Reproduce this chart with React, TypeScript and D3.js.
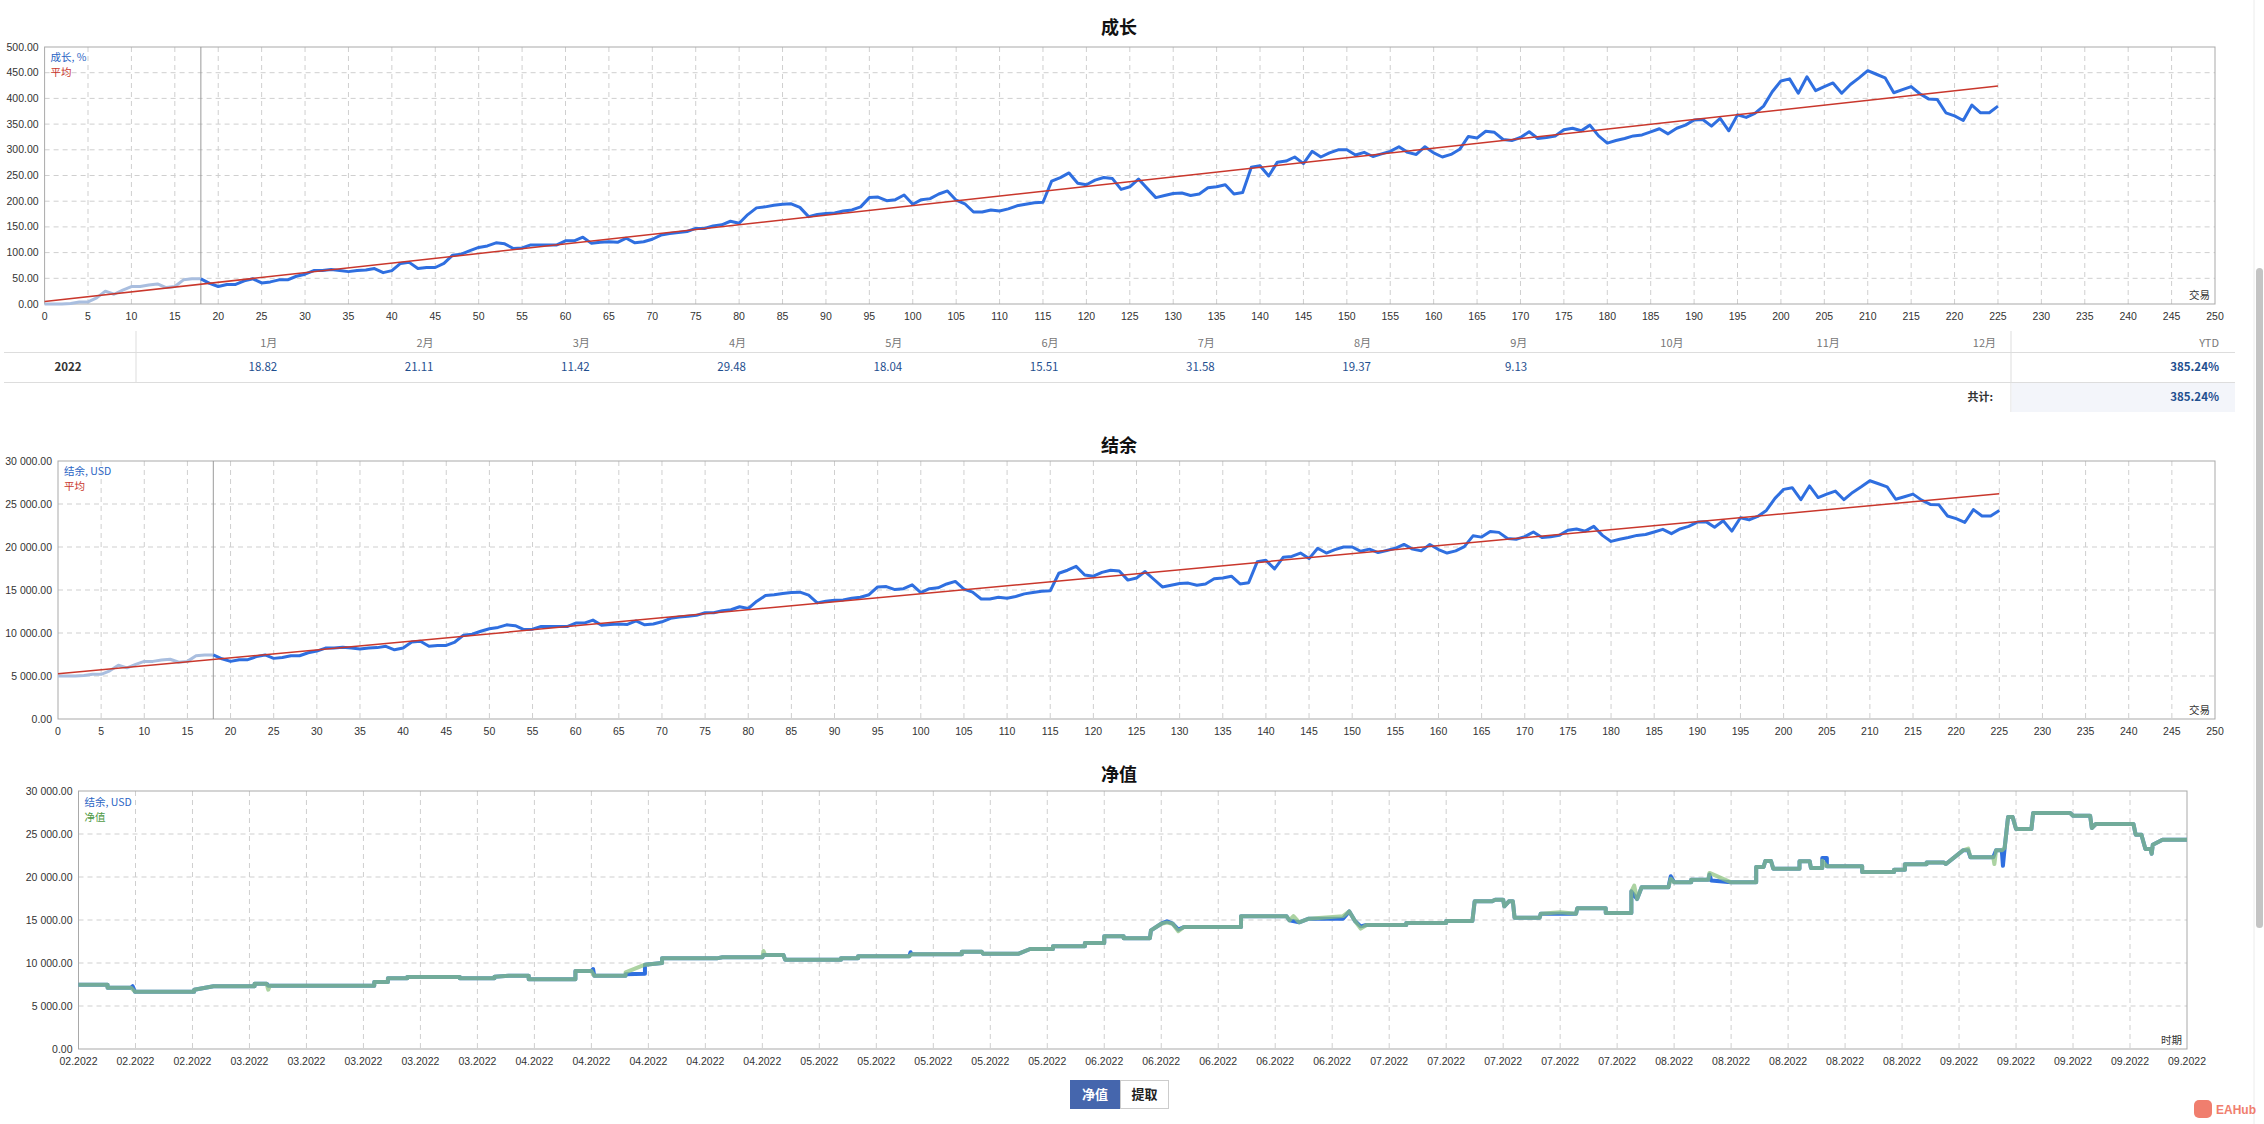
import React, { useEffect } from 'react';
import * as d3 from 'd3';

const W = 2264;
const H = 1124;
const FONT = '"Liberation Sans", "Noto Sans CJK SC", sans-serif';
const CJK = '"Noto Sans CJK SC", "Liberation Sans", sans-serif';

// growth, % per trade (0..225)
const growth = [
  0, 0, 0, 1, 4, 4, 12, 25, 19, 27, 34, 34, 37, 39, 32, 34, 47, 49, 49,
  40, 34, 38, 38, 45, 49, 41, 43, 47, 47, 54, 58, 65, 65, 67, 65, 63, 65, 66, 69, 61,
  65, 79, 81, 69, 71, 71, 79, 95, 97, 104, 110, 113, 119, 117, 108, 109, 115, 115, 115, 115,
  123, 123, 130, 118, 120, 121, 120, 128, 119, 121, 126, 134, 137, 139, 141, 147, 147, 152, 154, 161,
  157, 174, 187, 189, 192, 194, 195, 188, 170, 174, 176, 177, 181, 183, 189, 207, 208, 201, 203, 212,
  194, 203, 205, 214, 220, 202, 195, 179, 179, 183, 181, 185, 191, 194, 197, 198, 239, 246, 255, 235,
  232, 241, 246, 244, 223, 228, 243, 225, 207, 211, 215, 216, 211, 214, 226, 228, 232, 214, 217, 266,
  269, 249, 276, 278, 286, 273, 297, 286, 294, 300, 300, 290, 295, 287, 292, 297, 306, 295, 291, 306,
  294, 286, 291, 301, 326, 323, 336, 334, 320, 318, 324, 335, 322, 324, 327, 339, 342, 337, 348, 327,
  313, 318, 322, 327, 329, 335, 341, 331, 342, 348, 358, 359, 346, 361, 337, 368, 363, 371, 385, 413,
  434, 438, 410, 442, 415, 423, 430, 410, 427, 440, 454, 447, 440, 411, 417, 423, 409, 399, 398, 372,
  366, 357, 387, 372, 372, 385,
];

// balance, USD per trade (0..225)
const balance = [
  5000, 5000, 5000, 5050, 5200, 5200, 5600, 6250, 5950, 6350, 6700, 6700, 6850, 6950, 6600, 6700, 7350, 7450, 7450,
  7000, 6700, 6900, 6900, 7250, 7450, 7050, 7150, 7350, 7350, 7700, 7900, 8250, 8250, 8350, 8250, 8150, 8250, 8300, 8450, 8050,
  8250, 8950, 9050, 8450, 8550, 8550, 8950, 9750, 9850, 10200, 10500, 10650, 10950, 10850, 10400, 10450, 10750, 10750, 10750, 10750,
  11150, 11150, 11500, 10900, 11000, 11050, 11000, 11400, 10950, 11050, 11300, 11700, 11850, 11950, 12050, 12350, 12350, 12600, 12700, 13050,
  12850, 13700, 14350, 14450, 14600, 14700, 14750, 14400, 13500, 13700, 13800, 13850, 14050, 14150, 14450, 15350, 15400, 15050, 15150, 15600,
  14700, 15150, 15250, 15700, 16000, 15100, 14750, 13950, 13950, 14150, 14050, 14250, 14550, 14700, 14850, 14900, 16950, 17300, 17750, 16750,
  16600, 17050, 17300, 17200, 16150, 16400, 17150, 16250, 15350, 15550, 15750, 15800, 15550, 15700, 16300, 16400, 16600, 15700, 15850, 18300,
  18450, 17450, 18800, 18900, 19300, 18650, 19850, 19300, 19700, 20000, 20000, 19500, 19750, 19350, 19600, 19850, 20300, 19750, 19550, 20300,
  19700, 19300, 19550, 20050, 21300, 21150, 21800, 21700, 21000, 20900, 21200, 21750, 21100, 21200, 21350, 21950, 22100, 21850, 22400, 21350,
  20650, 20900, 21100, 21350, 21450, 21750, 22050, 21550, 22100, 22400, 22900, 22950, 22300, 23050, 21850, 23400, 23150, 23550, 24250, 25650,
  26700, 26900, 25500, 27100, 25750, 26150, 26500, 25500, 26350, 27000, 27700, 27350, 27000, 25550, 25850, 26150, 25450, 24950, 24900, 23600,
  23300, 22850, 24350, 23600, 23600, 24250,
];

// average line ends (trade 0 and last trade)
const growthAvg = [5, 424];
const balanceAvg = [5250, 26200];
const splitTrade = 18;

const months = ['1月', '2月', '3月', '4月', '5月', '6月', '7月', '8月', '9月', '10月', '11月', '12月'];
const monthValues = ['18.82', '21.11', '11.42', '29.48', '18.04', '15.51', '31.58', '19.37', '9.13', '', '', ''];
const yearLabel = '2022';
const ytdValue = '385.24%';
const totalValue = '385.24%';

const dateLabels = [
  '02.2022', '02.2022', '02.2022',
  '03.2022', '03.2022', '03.2022', '03.2022', '03.2022',
  '04.2022', '04.2022', '04.2022', '04.2022', '04.2022',
  '05.2022', '05.2022', '05.2022', '05.2022', '05.2022',
  '06.2022', '06.2022', '06.2022', '06.2022', '06.2022',
  '07.2022', '07.2022', '07.2022', '07.2022', '07.2022',
  '08.2022', '08.2022', '08.2022', '08.2022', '08.2022',
  '09.2022', '09.2022', '09.2022', '09.2022', '09.2022',
];

// [position on date axis, USD]
const balanceSteps: [number, number][] = [
  [0, 7480], [0.51, 7480], [0.51, 7130], [0.92, 7130], [0.95, 7300], [0.99, 6670], [2.03, 6670], [2.03, 6900],
  [2.37, 7290], [3.09, 7290], [3.09, 7600], [3.3, 7600], [3.33, 7360], [5.19, 7360], [5.19, 7790], [5.43, 7790],
  [5.43, 8220], [5.77, 8220], [5.77, 8370], [6.69, 8370], [6.69, 8220], [7.3, 8220], [7.3, 8410], [7.55, 8530],
  [7.9, 8530], [7.9, 8100], [8.72, 8100], [8.72, 9070], [9.0, 9070], [9.03, 9300], [9.05, 8530], [9.6, 8530],
  [9.6, 8700], [9.94, 8750], [9.94, 9800], [10.24, 10000], [10.24, 10540], [11.2, 10540], [11.3, 10660], [12.0, 10660],
  [12.02, 10930], [12.37, 10930], [12.4, 10390], [13.38, 10390], [13.38, 10540], [13.68, 10540], [13.68, 10780], [14.58, 10780],
  [14.6, 11250], [14.62, 11010], [15.5, 11010], [15.5, 11320], [15.85, 11320], [15.87, 11090], [16.5, 11090], [16.7, 11630],
  [17.1, 11630], [17.1, 11940], [17.66, 11940], [17.66, 12330], [18.0, 12330], [18.0, 13100], [18.34, 13100], [18.34, 12870],
  [18.8, 12870], [18.82, 13800], [19.0, 14570], [19.1, 14850], [19.2, 14570], [19.3, 13880], [19.4, 14190], [20.4, 14190],
  [20.4, 15430], [21.2, 15430], [21.25, 14960], [21.42, 14730], [21.59, 15150], [22.19, 15150], [22.3, 16000], [22.4, 14880],
  [22.5, 14260], [22.6, 14420], [23.3, 14420], [23.3, 14650], [24.0, 14650], [24.0, 14880], [24.46, 14880], [24.5, 17170],
  [24.8, 17170], [24.86, 17360], [25.0, 17360], [25.02, 16590], [25.1, 17170], [25.17, 17170], [25.2, 15270], [25.64, 15270],
  [25.66, 15740], [26.28, 15740], [26.3, 16360], [26.8, 16360], [26.8, 15810], [27.25, 15810], [27.25, 18330], [27.35, 17440],
  [27.43, 18800], [27.9, 18800], [27.94, 20080], [28.0, 19380], [28.3, 19380], [28.3, 19690], [28.6, 19690], [28.62, 20300],
  [28.65, 19600], [29.0, 19380], [29.44, 19380], [29.44, 21160], [29.57, 21160], [29.6, 21860], [29.7, 21860], [29.74, 20970],
  [30.2, 20970], [30.2, 21820], [30.38, 21820], [30.4, 21050], [30.6, 21050], [30.6, 22210], [30.68, 22210], [30.68, 21240],
  [31.3, 21240], [31.3, 20580], [31.86, 20580], [31.86, 20850], [32.05, 20850], [32.05, 21470], [32.43, 21470], [32.43, 21700],
  [32.73, 21700], [32.77, 21510], [33.07, 23100], [33.16, 23100], [33.2, 22290], [33.6, 22290], [33.65, 23100], [33.75, 23100],
  [33.77, 21300], [33.8, 23370], [33.86, 26980], [33.94, 26980], [34.0, 25580], [34.27, 25580], [34.3, 27440], [34.95, 27440],
  [35.0, 27130], [35.3, 27130], [35.33, 25700], [35.4, 26160], [36.06, 26160], [36.1, 24920], [36.2, 24920], [36.27, 23260],
  [36.36, 23260], [36.38, 22710], [36.4, 23760], [36.57, 24340], [37, 24340],
];

const equitySteps: [number, number][] = [
  [0, 7480], [0.51, 7480], [0.51, 7130], [0.92, 7130], [0.99, 6670], [2.03, 6670], [2.03, 6900],
  [2.37, 7290], [3.09, 7290], [3.09, 7600], [3.3, 7600], [3.33, 6900], [3.36, 7360], [5.19, 7360], [5.19, 7790], [5.43, 7790],
  [5.43, 8220], [5.77, 8220], [5.77, 8370], [6.69, 8370], [6.69, 8220], [7.3, 8220], [7.3, 8410], [7.55, 8530],
  [7.9, 8530], [7.9, 8100], [8.72, 8100], [8.72, 9070], [9.0, 9070], [9.05, 8530], [9.6, 8530],
  [9.6, 8900], [9.94, 9800], [10.24, 10000], [10.24, 10540], [11.2, 10540], [11.3, 10660], [12.0, 10660],
  [12.02, 11400], [12.05, 10930], [12.37, 10930], [12.4, 10390], [13.38, 10390], [13.38, 10540], [13.68, 10540], [13.68, 10780], [14.58, 10780],
  [14.62, 11010], [15.5, 11010], [15.5, 11320], [15.85, 11320], [15.87, 11090], [16.5, 11090], [16.7, 11630],
  [17.1, 11630], [17.1, 11940], [17.66, 11940], [17.66, 12330], [18.0, 12330], [18.0, 13100], [18.34, 13100], [18.34, 12870],
  [18.8, 12870], [18.82, 13800], [19.0, 14570], [19.1, 14700], [19.2, 14570], [19.3, 13700], [19.4, 14190], [20.4, 14190],
  [20.4, 15430], [21.2, 15430], [21.25, 14960], [21.32, 15450], [21.42, 14730], [21.59, 15150], [22.19, 15450], [22.3, 16000], [22.4, 14880],
  [22.5, 14000], [22.6, 14420], [23.3, 14420], [23.3, 14650], [24.0, 14650], [24.0, 14880], [24.46, 14880], [24.5, 17170],
  [24.8, 17170], [24.86, 17360], [25.0, 17360], [25.02, 16590], [25.1, 17170], [25.17, 17170], [25.2, 15270], [25.64, 15270],
  [25.66, 15740], [26.0, 15900], [26.28, 15740], [26.3, 16360], [26.8, 16360], [26.8, 15810], [27.25, 15810], [27.25, 18330], [27.3, 19000], [27.35, 17440],
  [27.43, 18800], [27.9, 18800], [27.94, 19800], [28.0, 19380], [28.3, 19380], [28.3, 19690], [28.6, 19690], [28.62, 20470],
  [29.0, 19380], [29.44, 19380], [29.44, 21160], [29.57, 21160], [29.6, 21860], [29.7, 21860], [29.74, 20970],
  [30.2, 20970], [30.2, 21820], [30.38, 21820], [30.4, 21050], [30.6, 21050], [30.6, 21900], [30.68, 21240],
  [31.3, 21240], [31.3, 20580], [31.86, 20580], [31.86, 20850], [32.05, 20850], [32.05, 21470], [32.43, 21470], [32.43, 21700],
  [32.73, 21700], [32.77, 21510], [33.07, 23100], [33.16, 23300], [33.2, 22290], [33.6, 22290], [33.62, 21500], [33.65, 23100], [33.75, 23100],
  [33.8, 23370], [33.86, 26980], [33.94, 26980], [34.0, 25580], [34.27, 25580], [34.3, 27440], [34.95, 27440],
  [35.0, 27130], [35.3, 27130], [35.33, 25700], [35.4, 26160], [36.06, 26160], [36.1, 24920], [36.2, 24920], [36.27, 23260],
  [36.36, 23260], [36.38, 22710], [36.4, 23760], [36.57, 24340], [37, 24340],
];

const GRID = '#cfcfcf';
const BORDER = '#a9a9a9';
const BLUE = '#2f6fe0';
const LIGHT = '#a9bedf';
const RED = '#c9372c';
const TEXT = '#333';

const spaced = (v: number) => d3.format(',.2f')(v).replace(/,/g, ' ');

interface TradeChartProps {
  title: string;
  titleY: number;
  left: number;
  right: number;
  top: number;
  bottom: number;
  values: number[];
  avg: number[];
  yMax: number;
  yTicks: number;
  yFormat: (v: number) => string;
  legend: string;
}

function TradeChart({ title, titleY, left, right, top, bottom, values, avg, yMax, yTicks, yFormat, legend }: TradeChartProps) {
  const x = d3.scaleLinear().domain([0, 250]).range([left, right]);
  const y = d3.scaleLinear().domain([0, yMax]).range([bottom, top]);
  const last = values.length - 1;

  const lineFrom = (offset: number) =>
    d3.line<number>().x((_, i) => x(i + offset)).y(d => y(d));

  const early = values.slice(0, splitTrade + 1);
  const later = values.slice(splitTrade);

  return (
    <g>
      <text x={1119} y={titleY} textAnchor="middle" fontFamily={CJK} fontSize={18} fontWeight="bold" fill="#111">
        {title}
      </text>
      <rect x={left} y={top} width={right - left} height={bottom - top} fill="#fff" />
      {x.ticks(50).filter(t => t > 0 && t < 250).map(t => (
        <line key={'vx' + t} x1={x(t)} x2={x(t)} y1={top} y2={bottom} stroke={GRID} strokeDasharray="5,4" />
      ))}
      {y.ticks(yTicks).filter(t => t > 0 && t < yMax).map(t => (
        <line key={'hy' + t} x1={left} x2={right} y1={y(t)} y2={y(t)} stroke={GRID} strokeDasharray="5,4" />
      ))}
      <rect x={left} y={top} width={right - left} height={bottom - top} fill="none" stroke={BORDER} />
      <line x1={x(splitTrade)} x2={x(splitTrade)} y1={top} y2={bottom} stroke="#9a9a9a" />
      <path d={lineFrom(0)(early) || ''} fill="none" stroke={LIGHT} strokeWidth={3} strokeLinejoin="round" />
      <path d={lineFrom(splitTrade)(later) || ''} fill="none" stroke={BLUE} strokeWidth={3} strokeLinejoin="round" />
      <line x1={x(0)} y1={y(avg[0])} x2={x(last)} y2={y(avg[1])} stroke={RED} strokeWidth={1.5} />
      {y.ticks(yTicks).map(t => (
        <text key={'yl' + t} x={left - 6} y={y(t) + 3.5} textAnchor="end" fontFamily={FONT} fontSize={10.5} fill={TEXT}>
          {yFormat(t)}
        </text>
      ))}
      {x.ticks(50).map(t => (
        <text key={'xl' + t} x={x(t)} y={bottom + 16} textAnchor="middle" fontFamily={FONT} fontSize={10.5} fill={TEXT}>
          {t}
        </text>
      ))}
      <text x={left + 6} y={top + 14} fontFamily={CJK} fontSize={10.5} fill="#2a64c4">{legend}</text>
      <text x={left + 6} y={top + 29} fontFamily={CJK} fontSize={10.5} fill={RED}>平均</text>
      <text x={right - 5} y={bottom - 5} textAnchor="end" fontFamily={CJK} fontSize={10.5} fill={TEXT}>交易</text>
    </g>
  );
}

function EquityChart() {
  const left = 78.5;
  const right = 2187;
  const top = 791;
  const bottom = 1049;
  const x = d3.scaleLinear().domain([0, dateLabels.length - 1]).range([left, right]);
  const y = d3.scaleLinear().domain([0, 30000]).range([bottom, top]);
  const line = d3.line<[number, number]>().x(d => x(d[0])).y(d => y(d[1]));
  const idx = d3.range(dateLabels.length);

  return (
    <g>
      <text x={1119} y={781} textAnchor="middle" fontFamily={CJK} fontSize={18} fontWeight="bold" fill="#111">净值</text>
      {idx.filter(i => i > 0 && i < dateLabels.length - 1).map(i => (
        <line key={'v' + i} x1={x(i)} x2={x(i)} y1={top} y2={bottom} stroke={GRID} strokeDasharray="5,4" />
      ))}
      {y.ticks(6).filter(t => t > 0 && t < 30000).map(t => (
        <line key={'h' + t} x1={left} x2={right} y1={y(t)} y2={y(t)} stroke={GRID} strokeDasharray="5,4" />
      ))}
      <rect x={left} y={top} width={right - left} height={bottom - top} fill="none" stroke={BORDER} />
      <path d={line(balanceSteps) || ''} fill="none" stroke={BLUE} strokeWidth={4} strokeLinejoin="round" />
      <path d={line(equitySteps) || ''} fill="none" stroke="#8cc27e" strokeOpacity={0.72} strokeWidth={4} strokeLinejoin="round" />
      {y.ticks(6).map(t => (
        <text key={'yl' + t} x={left - 6} y={y(t) + 3.5} textAnchor="end" fontFamily={FONT} fontSize={10.5} fill={TEXT}>
          {spaced(t)}
        </text>
      ))}
      {idx.map(i => (
        <text key={'xl' + i} x={x(i)} y={bottom + 16} textAnchor="middle" fontFamily={FONT} fontSize={10.5} fill={TEXT}>
          {dateLabels[i]}
        </text>
      ))}
      <text x={left + 6} y={top + 15} fontFamily={CJK} fontSize={10.5} fill="#2a64c4">结余, USD</text>
      <text x={left + 6} y={top + 30} fontFamily={CJK} fontSize={10.5} fill="#4f9a45">净值</text>
      <text x={right - 5} y={bottom - 5} textAnchor="end" fontFamily={CJK} fontSize={10.5} fill={TEXT}>时期</text>
    </g>
  );
}

function MonthTable() {
  const colX = d3.scaleBand<number>().domain(d3.range(12)).range([136, 2011]);
  const pad = 15;
  return (
    <g fontFamily={CJK}>
      <line x1={136} x2={136} y1={331} y2={382} stroke="#ddd" />
      <line x1={2011} x2={2011} y1={331} y2={412} stroke="#ddd" />
      <line x1={4} x2={2235} y1={352.5} y2={352.5} stroke="#ddd" />
      <line x1={4} x2={2235} y1={382.5} y2={382.5} stroke="#ddd" />
      <rect x={2011.5} y={383} width={223.5} height={29} fill="#f3f5fa" />
      {months.map((m, i) => (
        <text key={m} x={(colX(i) || 0) + colX.bandwidth() - pad} y={347} textAnchor="end" fontSize={11} fill="#777">
          {m}
        </text>
      ))}
      <text x={2219} y={347} textAnchor="end" fontSize={11} fill="#777">YTD</text>
      <text x={68} y={371} textAnchor="middle" fontSize={11.5} fontWeight="bold" fill="#333">{yearLabel}</text>
      {monthValues.map((v, i) => (
        <text key={'mv' + i} x={(colX(i) || 0) + colX.bandwidth() - pad} y={371} textAnchor="end" fontSize={11.5} fill="#1f4f8f">
          {v}
        </text>
      ))}
      <text x={2219} y={371} textAnchor="end" fontSize={11.5} fontWeight="bold" fill="#1f4f8f">{ytdValue}</text>
      <text x={1993} y={401} textAnchor="end" fontSize={11} fontWeight="bold" fill="#333">共计:</text>
      <text x={2219} y={401} textAnchor="end" fontSize={11.5} fontWeight="bold" fill="#1f4f8f">{totalValue}</text>
    </g>
  );
}

export default function App() {
  useEffect(() => {
    document.body.style.margin = '0';
    document.body.style.overflow = 'hidden';
  }, []);

  return (
    <svg width={W} height={H} style={{ position: 'absolute', left: 0, top: 0, display: 'block', background: '#fff' }}>
      <TradeChart
        title="成长"
        titleY={34}
        left={44.6}
        right={2215}
        top={47}
        bottom={304}
        values={growth}
        avg={growthAvg}
        yMax={500}
        yTicks={10}
        yFormat={d3.format('.2f')}
        legend="成长, %"
      />
      <MonthTable />
      <TradeChart
        title="结余"
        titleY={452}
        left={58}
        right={2215}
        top={461}
        bottom={719}
        values={balance}
        avg={balanceAvg}
        yMax={30000}
        yTicks={6}
        yFormat={spaced}
        legend="结余, USD"
      />
      <EquityChart />
      <g fontFamily={CJK} fontSize={13} fontWeight="bold">
        <rect x={1070} y={1080} width={50} height={29} fill="#4566ad" />
        <text x={1095} y={1099} textAnchor="middle" fill="#fff">净值</text>
        <rect x={1120.5} y={1080.5} width={48} height={28} fill="#fff" stroke="#ccc" />
        <text x={1144.5} y={1099} textAnchor="middle" fill="#222">提取</text>
      </g>
      <line x1={2254} x2={2254} y1={0} y2={H} stroke="#ececec" />
      <rect x={2256} y={268} width={7} height={660} rx={3.5} fill="#c4c4c4" />
      <rect x={2194} y={1100} width={18} height={18} rx={5} fill="#f07e6e" />
      <text x={2216} y={1114} fontFamily={FONT} fontSize={12} fontWeight="bold" fill="#f07e6e">EAHub</text>
    </svg>
  );
}
